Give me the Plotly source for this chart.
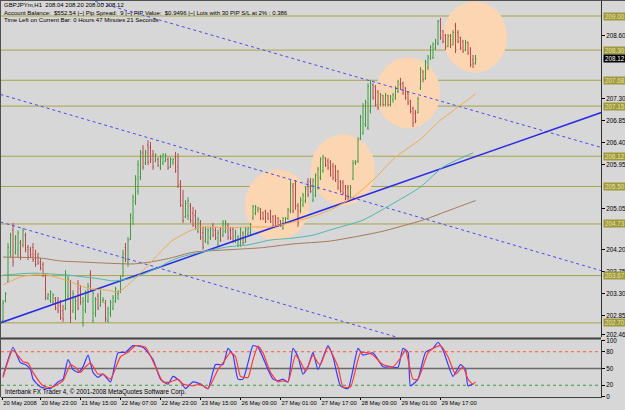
import plotly.graph_objects as go

# ---------------- price bars (GBPJPYm, H1) ----------------
opens = [202.75,203.14,203.55,204.15,204.60,204.15,204.20,204.35,204.30,204.50,
 204.25,204.20,204.25,204.10,204.05,203.95,203.90,203.68,203.20,203.15,
 203.12,203.20,203.15,203.05,202.95,203.00,203.25,203.55,202.95,202.80,
 203.50,203.40,202.70,202.95,203.15,203.70,202.75,202.90,203.25,203.05,
 203.16,203.10,202.75,202.90,203.00,203.15,203.30,203.35,203.65,204.25,
 203.95,204.42,204.85,205.20,205.40,205.70,206.20,205.98,206.35,206.30,
 206.15,206.02,206.05,205.88,205.98,206.02,206.05,205.90,206.00,206.10,
 205.90,205.55,205.10,204.88,204.90,205.10,204.95,204.90,204.58,204.75,
 204.55,204.38,204.35,204.45,204.70,204.60,204.30,204.62,204.50,204.58,
 204.70,204.60,204.62,204.38,204.30,204.30,204.55,204.36,204.52,204.55,
 204.85,204.95,205.02,205.04,204.97,205.00,204.95,205.00,204.88,204.90,
 204.85,204.80,204.64,204.74,204.84,205.00,205.50,205.55,205.10,205.00,
 205.12,205.20,205.60,205.60,205.22,205.32,205.48,205.68,205.82,206.08,
 206.02,206.00,205.92,205.90,205.80,205.60,205.58,205.50,205.48,205.28,
 205.66,205.99,206.02,206.48,206.60,206.78,206.70,207.05,207.58,207.55,
 207.44,207.18,207.36,207.18,207.36,207.18,207.28,207.32,207.45,207.60,
 207.62,207.52,207.42,207.26,207.10,207.00,207.02,207.52,207.85,207.72,
 207.94,208.12,208.14,208.34,208.44,208.90,208.70,208.60,208.38,208.60,
 208.42,208.80,208.66,208.56,208.48,208.30,208.46,208.30,208.10,208.04]
highs = [203.17,203.33,204.34,204.55,204.75,204.50,204.60,204.40,204.65,204.55,
 204.30,204.26,204.34,204.20,204.14,204.03,203.95,203.72,203.31,203.37,
 203.31,203.23,203.23,203.17,203.07,203.78,203.68,203.58,203.37,203.23,
 203.58,203.48,203.23,203.37,203.52,203.78,203.37,203.23,203.31,203.37,
 203.23,203.17,203.03,203.17,203.27,203.44,203.37,203.68,204.20,204.34,
 204.46,204.95,205.33,205.73,206.04,206.25,206.35,206.25,206.45,206.41,
 206.25,206.18,206.10,206.15,206.18,206.18,206.10,206.10,206.08,206.21,
 206.18,205.63,205.43,205.22,205.28,205.16,205.08,205.02,204.87,204.81,
 204.67,204.67,204.65,204.67,204.75,204.67,204.61,204.67,204.81,204.81,
 204.75,204.67,204.67,204.61,204.50,204.67,204.58,204.67,204.67,204.75,
 205.12,205.12,205.08,205.06,204.98,205.02,204.96,205.02,204.91,204.91,
 204.87,204.81,204.87,204.87,205.06,205.63,205.57,205.63,205.16,205.28,
 205.37,205.49,205.67,205.67,205.67,205.77,205.90,206.10,206.15,206.10,
 206.08,206.04,205.98,205.94,205.84,205.63,205.63,205.53,205.53,205.53,
 206.04,206.04,206.51,206.97,207.21,207.28,207.62,207.69,207.62,207.58,
 207.48,207.42,207.38,207.42,207.38,207.38,207.42,207.56,207.69,207.73,
 207.65,207.54,207.45,207.28,207.14,207.07,207.34,207.95,207.89,208.10,
 208.20,208.40,208.46,208.53,208.92,208.96,208.71,208.63,208.63,208.63,
 208.71,208.86,208.71,208.57,208.51,208.51,208.47,208.36,208.20,208.20]
lows = [202.72,203.12,203.52,204.05,203.85,204.10,204.05,203.99,204.25,204.15,
 203.99,204.05,203.95,203.85,203.89,203.78,203.64,203.17,203.17,203.11,
 203.07,202.96,202.90,202.76,202.72,202.96,203.17,202.70,202.90,202.76,
 202.96,203.07,202.62,202.90,203.11,203.33,202.70,202.82,202.96,203.03,
 203.11,202.72,202.70,202.82,202.96,203.11,203.17,203.31,203.64,203.95,
 203.85,204.40,204.71,205.12,205.33,205.63,205.84,205.94,205.94,205.98,
 205.84,206.00,205.90,205.84,205.94,206.00,205.84,205.88,205.94,205.78,
 205.47,205.08,204.75,204.85,204.81,204.75,204.67,204.61,204.54,204.40,
 204.20,204.34,204.30,204.40,204.46,204.40,204.26,204.36,204.46,204.54,
 204.40,204.40,204.34,204.34,204.26,204.26,204.30,204.34,204.50,204.50,
 204.81,204.91,204.96,204.81,204.81,204.75,204.81,204.75,204.67,204.67,
 204.67,204.67,204.61,204.73,204.81,204.95,204.95,205.02,204.67,204.95,
 205.08,205.16,205.28,205.37,205.18,205.28,205.43,205.63,205.78,205.90,
 205.84,205.70,205.63,205.59,205.43,205.37,205.33,205.22,205.22,205.25,
 205.63,205.94,205.98,206.45,206.56,206.72,206.66,207.00,207.28,207.14,
 207.07,207.14,207.14,207.14,207.14,207.14,207.22,207.28,207.42,207.48,
 207.38,207.28,207.17,207.00,206.72,206.80,207.00,207.48,207.64,207.69,
 207.89,208.10,208.12,208.30,208.40,208.51,208.44,208.30,208.36,208.34,
 208.40,208.24,208.44,208.30,208.24,208.28,208.20,207.95,207.93,208.00]
closes = [203.10,203.30,204.25,204.50,203.95,204.45,204.55,204.05,204.60,204.20,
 204.05,204.10,204.00,203.90,203.92,203.82,203.70,203.22,203.28,203.33,
 203.27,203.00,202.95,202.80,202.78,203.70,203.60,202.80,203.30,203.15,
 203.00,203.12,203.15,203.30,203.45,203.38,203.30,203.18,203.00,203.30,
 203.18,202.78,202.98,203.12,203.22,203.40,203.31,203.62,204.12,204.00,
 204.40,204.90,205.28,205.65,205.95,206.18,205.90,206.20,206.00,206.05,
 205.90,206.15,205.93,206.10,206.15,206.14,205.88,206.05,206.06,205.82,
 205.52,205.12,204.80,205.15,205.20,204.80,204.70,204.65,204.82,204.45,
 204.25,204.62,204.60,204.62,204.50,204.45,204.55,204.40,204.75,204.76,
 204.45,204.44,204.38,204.56,204.46,204.62,204.34,204.62,204.64,204.72,
 205.08,205.08,205.06,204.85,204.84,204.78,204.83,204.78,204.70,204.70,
 204.69,204.69,204.84,204.85,205.03,205.55,205.00,205.10,204.75,205.22,
 205.32,205.45,205.33,205.40,205.62,205.72,205.85,206.05,206.10,205.94,
 205.88,205.74,205.68,205.64,205.47,205.40,205.36,205.26,205.28,205.48,
 205.98,206.01,206.45,206.92,207.15,207.22,207.55,207.62,207.32,207.18,
 207.12,207.38,207.18,207.38,207.18,207.34,207.38,207.52,207.65,207.60,
 207.42,207.32,207.22,207.04,206.80,206.85,207.30,207.90,207.70,208.05,
 208.15,208.36,208.42,208.48,208.88,208.56,208.48,208.36,208.58,208.40,
 208.66,208.30,208.48,208.34,208.28,208.46,208.24,208.00,208.02,208.12]
bar_index = list(range(len(closes)))

# ---------------- moving averages (read at sample bars) ----------------
ma_fast_idx = [0,7,16,26,34,42,46,50,55,60,65,68,74,79,90,99,107,116,123,131,140,148,157,167,175,182,189]
ma_fast_val = [203.48,203.64,203.70,203.56,203.41,203.37,203.33,203.48,203.72,203.99,204.26,204.40,204.57,204.67,
               204.65,204.67,204.67,204.77,204.87,205.02,205.28,205.63,206.10,206.47,206.86,207.13,207.40]
ma_mid_idx = [0,12,26,39,44,50,55,62,67,71,79,90,98,107,116,124,131,144,155,167,176,188]
ma_mid_val = [203.68,203.72,203.68,203.60,203.56,203.60,203.68,203.83,203.97,204.05,204.15,204.26,204.30,204.40,
              204.44,204.50,204.61,204.81,205.12,205.49,205.90,206.19]
ma_slow_idx = [0,15,23,31,39,52,59,67,76,90,103,116,131,151,168,179,189]
ma_slow_val = [204.05,204.03,203.97,203.95,203.93,203.91,203.95,204.03,204.15,204.20,204.24,204.32,204.38,204.57,
               204.81,205.02,205.21]

# ---------------- stochastic oscillator (read at sample bars) ----------------
stoch_k_idx = [0,4,7,9,11,12,15,19,22,24,26,28,30,32,34,36,38,40,43,46,49,52,56,60,63,66,68,71,73,76,79,82,85,88,
               90,92,94,96,98,100,102,106,108,110,112,114,116,118,120,122,124,126,130,132,135,138,142,144,148,152,
               155,158,160,162,163,166,169,172,174,176,180,183,185,186,188]
stoch_k_val = [36,88,60,57,48,31,17,14,26,31,66,48,43,53,74,43,34,40,26,78,79,91,88,66,31,22,36,26,14,26,22,14,57,57,
               86,74,31,31,60,91,88,48,31,28,31,26,86,71,40,53,79,48,91,71,19,14,86,74,78,53,
               53,52,86,79,19,31,79,86,97,83,36,57,48,19,22]
stoch_d_idx = [0,4,8,10,12,16,19,22,24,27,29,31,33,35,38,40,43,47,50,53,57,61,64,67,70,72,76,79,82,86,88,91,93,95,98,
               100,102,104,107,110,112,114,117,119,121,124,126,127,130,134,136,139,143,146,148,152,156,159,161,164,
               166,170,172,175,178,181,184,186,188,189]
stoch_d_val = [34,83,62,60,43,19,16,22,28,57,52,43,53,60,40,40,31,71,79,91,88,53,26,26,31,22,19,22,14,48,60,79,71,36,34,
               66,90,78,43,26,28,26,74,62,45,74,60,57,88,53,17,17,78,78,74,57,53,69,83,31,
               31,78,86,91,71,40,53,31,22,26]

# ---------------- drawn objects ----------------
level_prices = [209.00, 208.30, 207.68, 207.15, 206.12, 205.50, 204.73, 203.67, 202.70]
level_labels = ["209.00", "208.30", "207.68", "207.15", "206.12", "205.50", "204.73", "203.67", "202.70"]
price_ticks = [208.60, 207.30, 206.85, 206.40, 205.95, 205.05, 204.20, 203.75, 203.30, 202.85, 202.46]
last_price = 208.12

time_tick_idx = [-0.3, 15, 31, 47, 63, 79, 95, 111, 127, 143, 159, 175]
time_tick_text = ["20 May 2008", "20 May 23:00", "21 May 15:00", "22 May 07:00", "22 May 23:00", "23 May 15:00",
                  "26 May 09:00", "27 May 01:00", "27 May 17:00", "28 May 09:00", "29 May 01:00", "29 May 17:00"]

channel_upper = ([30, 240], [209.40, 206.29])
channel_mid = ([-1, 240], [207.39, 203.76])
channel_lower = ([-1, 170], [204.77, 202.22])
support_line = ([-1, 240], [202.70, 207.03])

zone_centers_idx = [109.6, 136.0, 162.0, 188.8]
zone_centers_price = [205.12, 205.84, 207.42, 208.57]

header_lines = [
    "GBPJPYm,H1  208.04 208.20 208.00 208.12",
    "Account Balance:  $552.54 |~| Pip Spread:  9 |~| PIP Value:  $0.9496 |~| Lots with 30 PIP S/L at 2% : 0.386",
    "Time Left on Current Bar: 0 Hours 47 Minutes 21 Seconds",
]
footer_text = "Interbank FX Trader 4, \u00a9 2001-2008 MetaQuotes Software Corp."

# ---------------- figure ----------------
BG = "#d7d7d7"
FONT = "Liberation Sans"
W, H = 625, 410
ML, MR, MT, MB = 1, 24, 1, 13
PW, PH = W - ML - MR, H - MT - MB


def px_x(x):
    return (x - ML) / PW


def px_y(y):
    return (H - MB - y) / PH


fig = go.Figure()

fig.add_trace(go.Ohlc(
    x=bar_index, open=opens, high=highs, low=lows, close=closes,
    increasing=dict(line=dict(color="#3f9c3f", width=1)),
    decreasing=dict(line=dict(color="#b84a4a", width=1)),
    tickwidth=0.35, xaxis="x", yaxis="y", hoverinfo="skip", showlegend=False))

for (xs, ys), dash, width, color in [
        (channel_upper, "dot", 1, "#4a4af2"),
        (channel_mid, "dot", 1, "#4a4af2"),
        (channel_lower, "dot", 1, "#4a4af2"),
        (support_line, "solid", 1.5, "#2a2ae6")]:
    fig.add_trace(go.Scatter(x=xs, y=ys, mode="lines", line=dict(color=color, width=width, dash=dash),
                             xaxis="x", yaxis="y", showlegend=False, hoverinfo="skip"))

for xs, ys, color in [(ma_slow_idx, ma_slow_val, "#a8785a"),
                      (ma_mid_idx, ma_mid_val, "#4fb8b0"),
                      (ma_fast_idx, ma_fast_val, "#f4a94a")]:
    fig.add_trace(go.Scatter(x=xs, y=ys, mode="lines", line=dict(color=color, width=1, shape="spline", smoothing=0.6),
                             xaxis="x", yaxis="y", showlegend=False, hoverinfo="skip"))

fig.add_trace(go.Scatter(x=stoch_k_idx, y=stoch_k_val, mode="lines",
                         line=dict(color="#3a3aff", width=1.2, shape="spline", smoothing=0.5),
                         xaxis="x", yaxis="y2", showlegend=False, hoverinfo="skip"))
fig.add_trace(go.Scatter(x=stoch_d_idx, y=stoch_d_val, mode="lines",
                         line=dict(color="#ff3a3a", width=1.2, shape="spline", smoothing=0.5),
                         xaxis="x", yaxis="y2", showlegend=False, hoverinfo="skip"))

shapes = []
rx, ry = 12.9, 0.73
for cx, cy in zip(zone_centers_idx, zone_centers_price):
    shapes.append(dict(type="circle", xref="x", yref="y", x0=cx - rx, x1=cx + rx, y0=cy - ry, y1=cy + ry,
                       fillcolor="#fcd5b2", line=dict(width=0), layer="below"))
for p in level_prices:
    shapes.append(dict(type="line", xref="paper", yref="y", x0=0, x1=1, y0=p, y1=p,
                       line=dict(color="#a9a248", width=1), layer="below"))
for lv, col, dash, wd in [(80, "#ff5a3a", "dot", 1), (50, "#6a6a6a", "solid", 1.6), (20, "#3f9c3f", "dot", 1)]:
    shapes.append(dict(type="line", xref="paper", yref="y2", x0=0, x1=1, y0=lv, y1=lv,
                       line=dict(color=col, width=wd, dash=dash), layer="below"))
# panel borders
shapes.append(dict(type="line", xref="paper", yref="paper", x0=-0.002, x1=1, y0=px_y(338.5), y1=px_y(338.5),
                   line=dict(color="#404040", width=2)))
shapes.append(dict(type="line", xref="paper", yref="paper", x0=px_x(0.5), x1=px_x(0.5), y0=0, y1=1.01,
                   line=dict(color="#505050", width=1)))
shapes.append(dict(type="line", xref="paper", yref="paper", x0=-0.002, x1=1.05, y0=px_y(0.5), y1=px_y(0.5),
                   line=dict(color="#505050", width=1)))

annotations = []
for k, txt in enumerate(header_lines):
    annotations.append(dict(xref="paper", yref="paper", x=px_x(2), y=px_y(5.5 + 7 * k), text=txt,
                            showarrow=False, xanchor="left", yanchor="middle",
                            font=dict(family=FONT, size=6, color="#000000")))
annotations.append(dict(xref="paper", yref="paper", x=px_x(3), y=px_y(392), text=footer_text,
                        showarrow=False, xanchor="left", yanchor="middle",
                        font=dict(family=FONT, size=6.3, color="#000000")))
for p, lab in zip(level_prices, level_labels):
    annotations.append(dict(xref="paper", yref="y", x=px_x(603), y=p, text=lab, showarrow=False,
                            xanchor="left", yanchor="middle", bgcolor="#9e9a3c", borderpad=0, width=22, height=7,
                            font=dict(family=FONT, size=6.3, color="#e6e2b0")))
annotations.append(dict(xref="paper", yref="y", x=px_x(603), y=last_price, text="208.12", showarrow=False,
                        xanchor="left", yanchor="middle", bgcolor="#000000", borderpad=0, width=22, height=7,
                        font=dict(family=FONT, size=6.3, color="#ffffff")))

fig.update_layout(
    width=W, height=H, margin=dict(l=ML, r=MR, t=MT, b=MB, autoexpand=False),
    paper_bgcolor=BG, plot_bgcolor=BG, shapes=shapes, annotations=annotations,
    showlegend=False,
    xaxis=dict(domain=[0, 1], range=[-0.8, 239.2], anchor="y2", rangeslider=dict(visible=False),
               tickmode="array", tickvals=time_tick_idx, ticktext=time_tick_text,
               ticks="outside", ticklen=2, tickcolor="#000000", ticklabelposition="outside right",
               tickangle=0, ticklabelstandoff=0,
               tickfont=dict(family=FONT, size=5.8, color="#000000"),
               showgrid=False, zeroline=False, showline=True, linecolor="#404040", linewidth=1, mirror=False),
    yaxis=dict(domain=[px_y(337), 1], range=[202.409, 209.308], side="right", anchor="x",
               tickmode="array", tickvals=price_ticks, ticktext=["%.2f" % v for v in price_ticks],
               ticks="outside", ticklen=3, tickcolor="#000000",
               tickfont=dict(family=FONT, size=6.3, color="#000000"),
               showgrid=False, zeroline=False, showline=True, linecolor="#303030", linewidth=1),
    yaxis2=dict(domain=[0, px_y(340)], range=[-1, 101], side="right", anchor="x",
                tickmode="array", tickvals=[0, 20, 50, 80, 100], ticktext=["0", "20", "50", "80", "100"],
                ticks="outside", ticklen=3, tickcolor="#000000",
                tickfont=dict(family=FONT, size=6.3, color="#000000"),
                showgrid=False, zeroline=False, showline=True, linecolor="#303030", linewidth=1),
)

fig.write_html("out.html")
